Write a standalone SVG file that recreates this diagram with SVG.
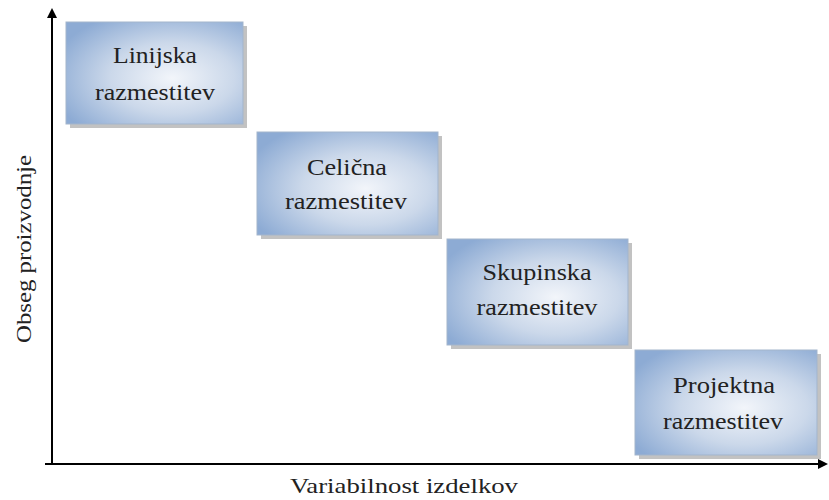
<svg xmlns="http://www.w3.org/2000/svg" width="829" height="500" viewBox="0 0 829 500">
<style>
.box{fill:url(#g);stroke:#a3b5cc;stroke-width:1}
.sh{fill:#9a9a9a;opacity:0.6}
.t{font-family:"Liberation Serif",serif;font-size:24px;fill:#222;text-anchor:middle}
.ax{stroke:#000;stroke-width:2;fill:none}
.lab{font-family:"Liberation Serif",serif;font-size:22px;fill:#222;text-anchor:middle}
</style>
<defs>
<radialGradient id="g" cx="0.6" cy="0.55" r="0.7">
<stop offset="0" stop-color="#f2f5fa"/>
<stop offset="0.5" stop-color="#cbd8ea"/>
<stop offset="1" stop-color="#8dabd4"/>
</radialGradient>
<marker id="ah" markerWidth="10" markerHeight="10" refX="8" refY="5" orient="auto" markerUnits="userSpaceOnUse">
<path d="M0,0 L10,5 L0,10 Z" fill="#000"/>
</marker>
</defs>
<g id="axes">
<line class="ax" x1="52" y1="464" x2="52" y2="10" marker-end="url(#ah)"/>
<line class="ax" x1="45" y1="464" x2="826" y2="464" marker-end="url(#ah)"/>
</g>
<g id="n1">
<rect class="sh" x="70" y="26" width="177" height="102"/>
<rect class="box" x="66" y="22" width="177" height="102"/>
<text class="t" x="155" y="63" textLength="84" lengthAdjust="spacingAndGlyphs">Linijska</text>
<text class="t" x="155" y="100" textLength="120" lengthAdjust="spacingAndGlyphs">razmestitev</text>
</g>
<g id="n2">
<rect class="sh" x="261" y="136" width="181" height="103"/>
<rect class="box" x="257" y="132" width="181" height="103"/>
<text class="t" x="347" y="175" textLength="80" lengthAdjust="spacingAndGlyphs">Celična</text>
<text class="t" x="346" y="209" textLength="122" lengthAdjust="spacingAndGlyphs">razmestitev</text>
</g>
<g id="n3">
<rect class="sh" x="451" y="243" width="181" height="106"/>
<rect class="box" x="447" y="239" width="181" height="106"/>
<text class="t" x="537" y="280" textLength="109" lengthAdjust="spacingAndGlyphs">Skupinska</text>
<text class="t" x="537" y="315" textLength="121" lengthAdjust="spacingAndGlyphs">razmestitev</text>
</g>
<g id="n4">
<rect class="sh" x="639" y="354" width="182" height="105"/>
<rect class="box" x="635" y="350" width="182" height="105"/>
<text class="t" x="724" y="393" textLength="102" lengthAdjust="spacingAndGlyphs">Projektna</text>
<text class="t" x="723" y="429" textLength="120" lengthAdjust="spacingAndGlyphs">razmestitev</text>
</g>
<text class="lab" transform="translate(31,249) rotate(-90)" textLength="188" lengthAdjust="spacingAndGlyphs">Obseg proizvodnje</text>
<text class="lab" x="404" y="493" textLength="228" lengthAdjust="spacingAndGlyphs">Variabilnost izdelkov</text>
</svg>
